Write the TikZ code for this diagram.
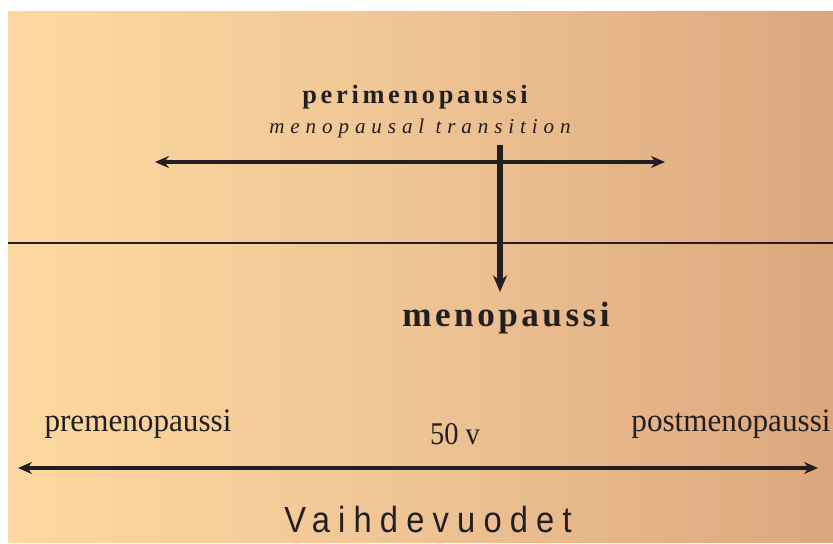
\documentclass[tikz,border=0pt]{standalone}
\usepackage{fontspec}
\setmainfont{Liberation Serif}
\newfontfamily\periserif[LetterSpace=14]{Liberation Serif}
\newfontfamily\transserif[LetterSpace=28]{Liberation Serif}
\newfontfamily\menoserif[LetterSpace=10]{Liberation Serif}
\newfontfamily\spacedsans[LetterSpace=25]{Liberation Sans}
\usepackage{xcolor}
\usetikzlibrary{arrows.meta, positioning}

\definecolor{warmleft}{HTML}{FDD9A1}
\definecolor{warmmid}{HTML}{EEC494}
\definecolor{warmright}{HTML}{DCA67C}
\definecolor{ink}{HTML}{231F20}

\begin{document}
\begin{tikzpicture}[
    x=0.03cm, y=-0.03cm,
    label/.style={
        inner sep=0pt,
        text=ink,
        align=center
    },
    bigarrow/.style={{Stealth[length=4.2mm, width=3.6mm]}-{Stealth[length=4.2mm, width=3.6mm]}, line width=3.3pt, draw=ink},
    downarrow/.style={-{Stealth[length=5mm, width=4.2mm]}, line width=5pt, draw=ink},
    baseline/.style={line width=1.2pt, draw=ink}
]

\useasboundingbox (0,0) rectangle (833,544);
\shade[left color=warmleft, right color=warmright, middle color=warmmid] (8,12) rectangle (833,542);

\node[label] (peri) at (415,97) {\fontsize{22.5}{26}\selectfont\periserif\bfseries perimenopaussi};
\node[label] (trans) at (420,128) {\fontsize{18}{21}\selectfont\transserif\itshape menopausal transition};

\coordinate (periL) at (155,162);
\coordinate (periR) at (665,162);
\coordinate (vtop) at (500,145);
\coordinate (vend) at (500,292);
\coordinate (sepL) at (8,243);
\coordinate (sepR) at (833,243);

\node[label] (meno) at (506,318) {\fontsize{30}{34}\selectfont\menoserif\bfseries menopaussi};

\node[label] (pre) at (138,424) {\scalebox{0.95}[1]{\fontsize{28}{32}\selectfont premenopaussi}};
\node[label] (fifty) at (455,434) {\scalebox{0.9}[1]{\fontsize{27}{32}\selectfont 50 v}};
\node[label] (post) at (731,424) {\scalebox{0.95}[1]{\fontsize{28}{32}\selectfont postmenopaussi}};

\coordinate (lifeL) at (18,468);
\coordinate (lifeR) at (818,468);

\node[label] (vaihde) at (428,520) {\scalebox{0.9}[1]{\fontsize{31}{36}\selectfont\spacedsans Vaihdevuodet}};

\draw[baseline] (sepL) -- (sepR);
\draw[bigarrow] (periL) -- (periR);
\draw[downarrow] (vtop) -- (vend);
\draw[bigarrow] (lifeL) -- (lifeR);

\end{tikzpicture}
\end{document}
